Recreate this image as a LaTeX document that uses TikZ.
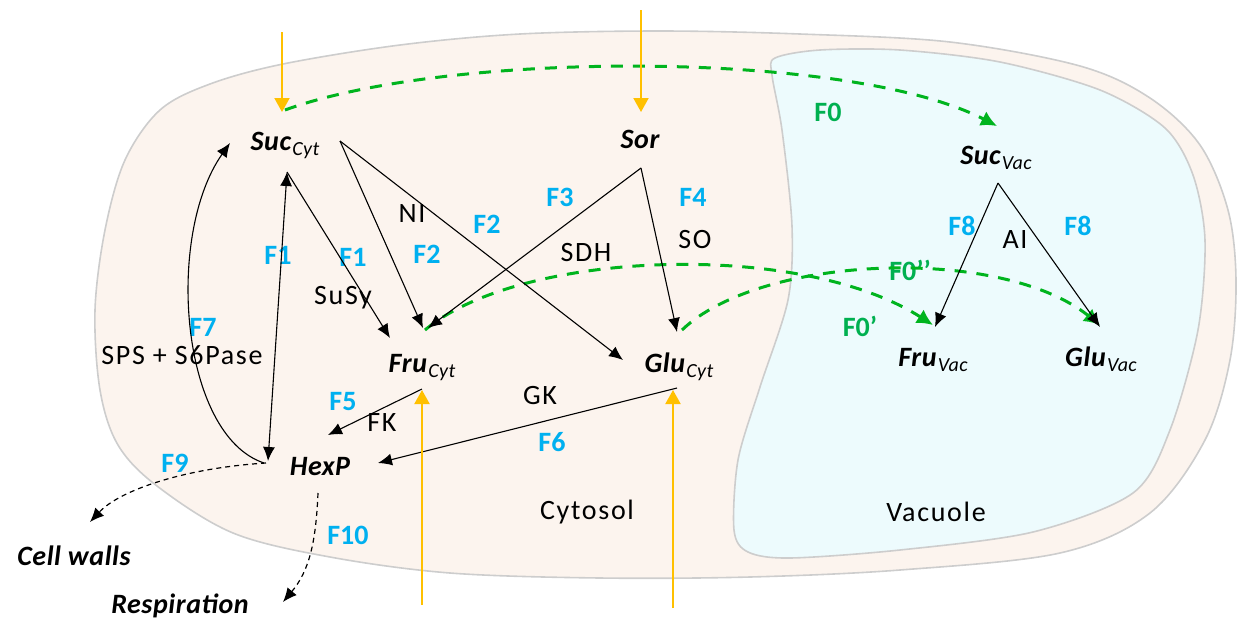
\documentclass[tikz,border=0pt]{standalone}
\usepackage{fontspec}
\setmainfont{Carlito}
\newfontfamily\spacedfont[LetterSpace=6]{Carlito}
\newfontfamily\metfont[LetterSpace=2]{Carlito}
\usetikzlibrary{arrows.meta,calc}
\definecolor{peach}{RGB}{252,244,238}
\definecolor{vac}{RGB}{237,251,253}
\definecolor{edgegray}{RGB}{205,205,205}
\definecolor{fgreen}{RGB}{0,180,30}
\definecolor{lgreen}{RGB}{0,176,80}
\definecolor{fblue}{RGB}{0,176,240}
\definecolor{forange}{RGB}{255,192,0}
\tikzset{
  txt/.style={font=\spacedfont\fontsize{14}{16}\selectfont, inner sep=0pt},
  met/.style={font=\metfont\fontsize{14}{16}\selectfont\bfseries\itshape, inner sep=0pt, anchor=base},
  flux/.style={font=\fontsize{14}{16}\selectfont\bfseries, text=fblue, inner sep=0pt},
  gflux/.style={font=\fontsize{14}{16}\selectfont\bfseries, text=lgreen, inner sep=0pt},
  rx/.style={draw=black, line width=0.55pt, -{Latex[length=7pt,width=6pt]}},
  tr/.style={draw=fgreen, line width=1.5pt, dash pattern=on 6pt off 5pt, -{Latex[length=8pt,width=8pt]}},
  inflow/.style={draw=forange, line width=1pt, -{Triangle[length=7pt,width=7.5pt]}},
  outflow/.style={draw=black, line width=0.6pt, dash pattern=on 2.5pt off 2pt, -{Latex[length=7pt,width=6pt]}},
}
\newcommand{\sub}[1]{\hspace{0.6pt}\raisebox{-2.6pt}{\fontsize{10}{12}\selectfont\mdseries\itshape #1}}
\begin{document}
\begin{tikzpicture}[x=0.5pt,y=-0.5pt]
\useasboundingbox (0,0) rectangle (1239,618);
% cell
\draw[fill=peach, draw=edgegray, line width=0.8pt] plot[smooth cycle, tension=0.55] coordinates {
 (283,64) (400,45) (520,34) (660,31) (800,34) (950,42) (1080,66) (1150,98) (1200,145) (1228,210) (1236,280) (1230,360) (1205,440) (1150,513) (1060,553) (900,570) (750,577) (600,578) (450,573) (330,557) (233,533) (157,486) (118,445) (100,390) (95,310) (105,230) (125,160) (160,110) (210,84)};
% vacuole
\draw[fill=vac, draw=edgegray, line width=0.8pt] plot[smooth cycle, tension=0.5] coordinates {
 (775,58) (820,50) (900,50) (1000,62) (1100,90) (1165,128) (1193,175) (1205,240) (1198,330) (1170,430) (1133,493) (1033,532) (900,550) (790,558) (748,552) (734,530) (738,460) (760,387) (788,300) (792,226) (782,130) (772,75)};

% metabolites
\node[met] (succ) at (285,150) {Suc\sub{Cyt}};
\node[met] (sor) at (640,148) {Sor};
\node[met] (fruc) at (422,372) {Fru\sub{Cyt}};
\node[met] (gluc) at (679,372) {Glu\sub{Cyt}};
\node[met] (hexp) at (320,475) {HexP};
\node[met] (sucv) at (996,164) {Suc\sub{Vac}};
\node[met] (fruv) at (933,366) {Fru\sub{Vac}};
\node[met] (gluv) at (1101,366) {Glu\sub{Vac}};
\node[met] (cw) at (74,565) {Cell walls};
\node[met] (resp) at (180,613) {Respiration};

% external sources
\coordinate (src1) at (282,32);
\coordinate (src2) at (641,10);
\coordinate (src3) at (422,605);
\coordinate (src4) at (673,608);

% labels
\node[txt] (lcyt) at (587,512) {Cytosol};
\node[txt] (lvac) at (936,512) {Vacuole};
\node[txt] (lni) at (412,214) {NI};
\node[txt] (lsusy) at (343,298) {SuSy};
\node[txt] (lsdh) at (586,253) {SDH};
\node[txt] (lso) at (695,240) {SO};
\node[txt] (lfk) at (382,423) {FK};
\node[txt] (lgk) at (540,395) {GK};
\node[txt] (lai) at (1015,240) {AI};
\node[txt] (lsps) at (182,355) {SPS + S6Pase};

\node[flux] (f1a) at (278,255) {F1};
\node[flux] (f1b) at (353,257) {F1};
\node[flux] (f2a) at (427,254) {F2};
\node[flux] (f2b) at (487,224) {F2};
\node[flux] (f3) at (560,197) {F3};
\node[flux] (f4) at (693,197) {F4};
\node[flux] (f5) at (343,402) {F5};
\node[flux] (f6) at (552,442) {F6};
\node[flux] (f7) at (203,327) {F7};
\node[flux] (f8a) at (962,226) {F8};
\node[flux] (f8b) at (1078,226) {F8};
\node[flux] (f9) at (175,463) {F9};
\node[flux] (f10) at (348,535) {F10};
\node[gflux] (f0) at (828,112) {F0};
\node[gflux] (f0p) at (860,326) {F0’};
\node[gflux] (f0pp) at (910,270) {F0’’};

% green transport arcs
\draw[tr] ($(succ.base)+(0,-40)$) .. controls (450,50) and (850,50) .. ($(sucv.base)+(1,-38)$);
\draw[tr] ($(fruc.base)+(3,-42)$) .. controls (520,250) and (800,240) .. ($(fruv.base)+(0,-41)$);
\draw[tr] ($(gluc.base)+(3,-42)$) .. controls (760,255) and (1000,245) .. ($(gluv.base)+(-1,-41)$);

% reactions
\draw[rx, {Latex[length=7pt,width=6pt]}-{Latex[length=7pt,width=6pt]}] ($(succ.base)+(2,22)$) -- ($(hexp.base)+(-52,-14)$);
\draw[rx] ($(succ.base)+(2,22)$) -- ($(fruc.base)+(-32,-34)$);
\draw[rx] ($(succ.base)+(55,-9)$) -- ($(fruc.base)+(1,-44)$);
\draw[rx] ($(succ.base)+(55,-9)$) -- ($(gluc.base)+(-56,-12)$);
\draw[rx] ($(sor.base)+(1,20)$) -- ($(fruc.base)+(6,-44)$);
\draw[rx] ($(sor.base)+(1,20)$) -- ($(gluc.base)+(-2,-40)$);
\draw[rx] ($(fruc.base)+(0,17)$) -- ($(hexp.base)+(8,-40)$);
\draw[rx] ($(gluc.base)+(-2,16)$) -- ($(hexp.base)+(58,-12)$);
\draw[rx] ($(hexp.base)+(-56,-12)$) .. controls (180,435) and (165,235) .. ($(succ.base)+(-55,-7)$);
\draw[rx] ($(sucv.base)+(2,19)$) -- ($(fruv.base)+(2,-39)$);
\draw[rx] ($(sucv.base)+(2,19)$) -- ($(gluv.base)+(-1,-39)$);

% outflows
\draw[outflow] ($(hexp.base)+(-54,-12)$) .. controls (185,468) and (120,490) .. ($(cw.base)+(16,-43)$);
\draw[outflow] ($(hexp.base)+(-2,18)$) .. controls (316,540) and (310,570) .. ($(resp.base)+(103,-11)$);

% inflows
\draw[inflow] (src1) -- ($(succ.base)+(-3,-38)$);
\draw[inflow] (src2) -- ($(sor.base)+(1,-36)$);
\draw[inflow] (src3) -- ($(fruc.base)+(0,18)$);
\draw[inflow] (src4) -- ($(gluc.base)+(-6,18)$);
\end{tikzpicture}
\end{document}
